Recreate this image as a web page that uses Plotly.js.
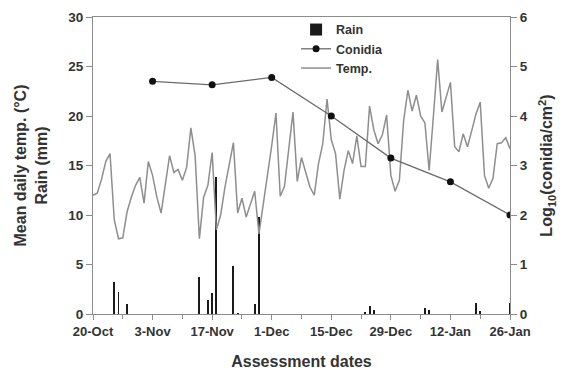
<!DOCTYPE html>
<html>
<head>
<meta charset="utf-8">
<script src="https://cdn.plot.ly/plotly-3.0.1.min.js"></script>
<style>html,body{margin:0;padding:0;background:#fff;}#chart{width:563px;height:370px;}</style>
</head>
<body>
<div id="chart"></div>
<script>
// Daily mean temperature (°C), one value per day starting 20-Oct
const tempStart = '2009-10-20';
const tempValues = [
  12.0, 12.2, 13.6, 15.4, 16.2, 9.5, 7.6, 7.7, 10.3, 11.8,
  13.0, 13.8, 11.2, 15.4, 14.0, 11.8, 10.2, 13.0, 16.0, 14.3,
  14.6, 13.5, 14.8, 18.8, 16.0, 7.6, 11.8, 13.0, 16.3, 8.5,
  10.0, 12.8, 15.2, 17.3, 10.2, 11.7, 9.8, 11.2, 12.4, 8.1,
  11.0, 14.0, 17.0, 20.3, 11.9, 12.9, 16.5, 20.4, 13.4, 15.8,
  14.3, 12.8, 12.0, 15.2, 17.2, 21.7, 17.6, 16.2, 11.6, 14.5,
  16.5, 15.2, 18.0, 14.9, 14.9, 21.0, 18.6, 17.2, 18.1, 20.1,
  14.0, 12.4, 13.5, 19.5, 22.6, 20.5, 22.1, 20.0, 19.3, 14.5,
  20.0, 25.7, 20.4, 22.0, 23.4, 16.9, 16.4, 18.2, 16.9, 18.5,
  20.2, 21.4, 14.0, 12.7, 13.7, 17.2, 17.3, 17.8, 16.7
];

// Rain (mm)
const rainDates = ['2009-10-25','2009-10-26','2009-10-28','2009-11-14','2009-11-16','2009-11-17',
  '2009-11-18','2009-11-22','2009-11-23','2009-11-27','2009-11-28','2009-12-23','2009-12-24',
  '2009-12-25','2010-01-06','2010-01-07','2010-01-18','2010-01-19','2010-01-26'];
const rainValues = [3.2, 2.2, 1.0, 3.7, 1.4, 2.1, 13.8, 4.8, 0.15, 1.0, 9.8, 0.25, 0.8, 0.4, 0.65, 0.45, 1.1, 0.35, 1.1];

// Conidia, log10(conidia/cm2)
const conidiaDates = ['2009-11-03','2009-11-17','2009-12-01','2009-12-15','2009-12-29','2010-01-12','2010-01-26'];
const conidiaValues = [4.70, 4.63, 4.78, 4.00, 3.15, 2.67, 2.00];

const DAY = 86400000;
const t0 = new Date(tempStart + 'T00:00:00Z').getTime();
const tempDates = tempValues.map((v, i) => new Date(t0 + i * DAY).toISOString().slice(0, 10));

const FONT = 'Liberation Sans, Arial, sans-serif';
const TXT = '#333333';
const AX = '#8c8c8c';

const traces = [
  {
    type: 'bar', name: 'Rain', x: rainDates, y: rainValues,
    width: 0.45 * DAY, marker: {color: '#1a1a1a', line: {width: 0}},
    yaxis: 'y', xaxis: 'x'
  },
  {
    type: 'scatter', mode: 'lines+markers', name: 'Conidia',
    x: conidiaDates, y: conidiaValues, yaxis: 'y2',
    line: {color: '#6a6a6a', width: 1.3},
    marker: {color: '#111111', size: 7}
  },
  {
    type: 'scatter', mode: 'lines', name: 'Temp.',
    x: tempDates, y: tempValues, yaxis: 'y',
    line: {color: '#8e8e8e', width: 1.5}
  }
];

const layout = {
  width: 563, height: 370,
  margin: {l: 93, r: 53, t: 17, b: 56, autoexpand: false},
  paper_bgcolor: '#ffffff', plot_bgcolor: '#ffffff',
  font: {family: FONT, color: TXT, size: 13, weight: 'bold'},
  showlegend: true,
  legend: {
    x: 0.487, y: 1.007, xanchor: 'left', yanchor: 'top',
    bgcolor: 'rgba(0,0,0,0)', borderwidth: 0,
    font: {family: FONT, size: 12.5, color: TXT, weight: 'bold'},
    itemwidth: 30, tracegroupgap: 0
  },
  bargap: 0,
  xaxis: {
    type: 'date',
    range: ['2009-10-20', '2010-01-26'],
    tick0: '2009-10-20', dtick: 14 * DAY,
    tickformat: '%-d-%b',
    ticks: 'outside', ticklen: 5, tickwidth: 1, tickcolor: AX,
    minor: {dtick: 7 * DAY, tick0: '2009-10-20', ticks: 'outside', ticklen: 4, tickcolor: AX, showgrid: false},
    showline: true, linecolor: AX, linewidth: 1, mirror: true,
    showgrid: false, zeroline: false,
    tickfont: {family: FONT, size: 13, color: TXT, weight: 'bold'},
    title: {text: 'Assessment dates', font: {family: FONT, size: 16, color: TXT, weight: 'bold'}, standoff: 22}
  },
  yaxis: {
    range: [0, 30], dtick: 5, tick0: 0,
    ticks: 'outside', ticklen: 6, tickwidth: 1, tickcolor: AX,
    showline: true, linecolor: AX, linewidth: 1,
    showgrid: false, zeroline: false,
    tickfont: {family: FONT, size: 13.5, color: TXT, weight: 'bold'},
    title: {text: 'Mean daily temp. (°C)<br>Rain (mm)', font: {family: FONT, size: 16, color: TXT, weight: 'bold'}, standoff: 16}
  },
  yaxis2: {
    overlaying: 'y', side: 'right',
    range: [0, 6], dtick: 1, tick0: 0,
    ticks: 'outside', ticklen: 6, tickwidth: 1, tickcolor: AX,
    showline: true, linecolor: AX, linewidth: 1,
    showgrid: false, zeroline: false,
    tickfont: {family: FONT, size: 13.5, color: TXT, weight: 'bold'},
    title: {text: 'Log<sub>10</sub>(conidia/cm<sup>2</sup>)', font: {family: FONT, size: 16, color: TXT, weight: 'bold'}, standoff: 14}
  }
};

Plotly.newPlot('chart', traces, layout, {staticPlot: true, displayModeBar: false});
</script>
</body>
</html>
